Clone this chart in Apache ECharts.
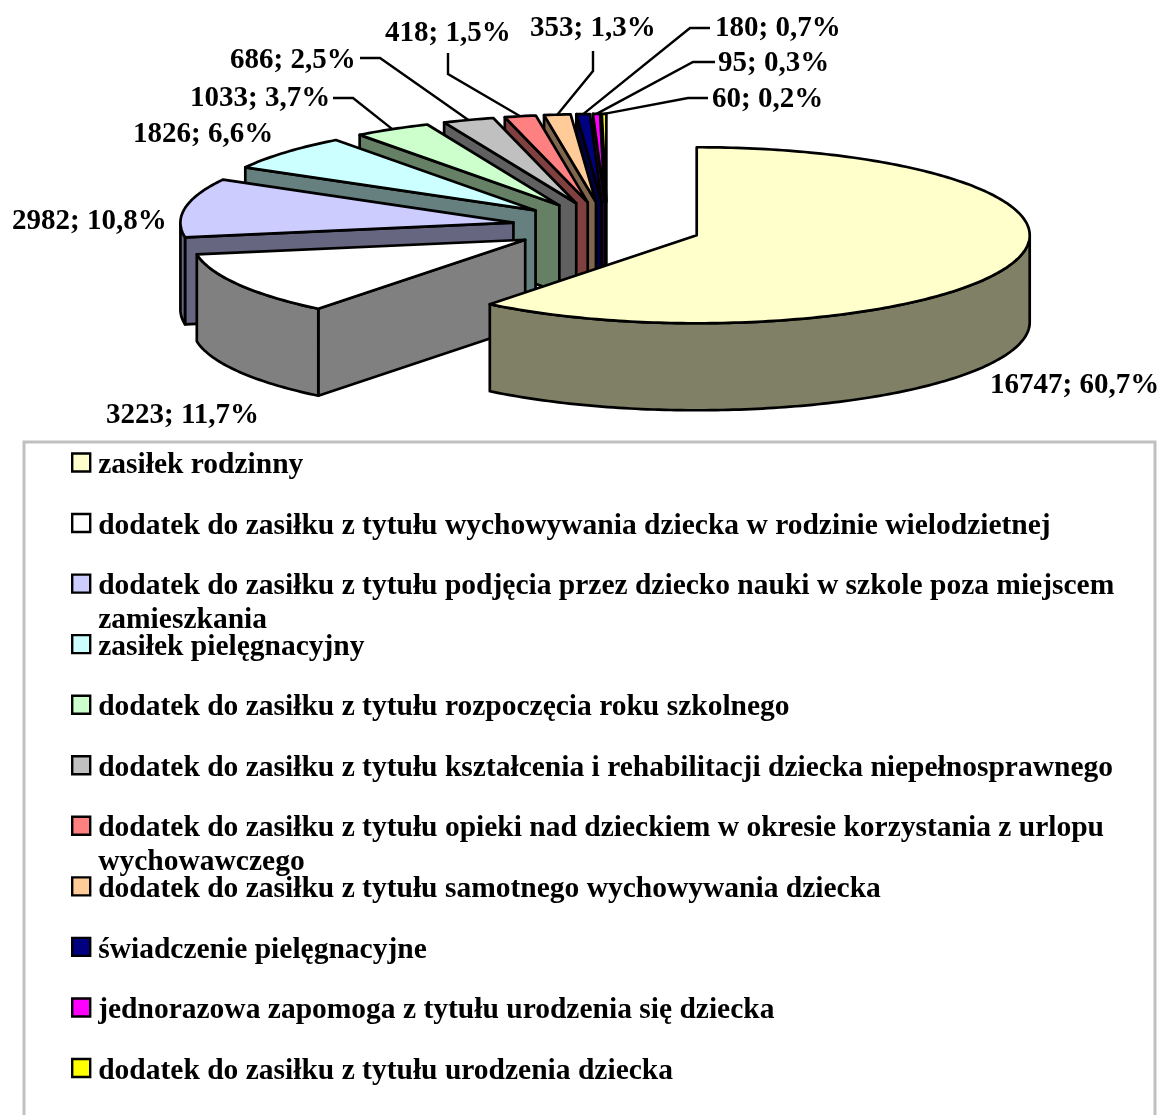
<!DOCTYPE html>
<html><head><meta charset="utf-8">
<style>html,body{margin:0;padding:0;background:#fff}#c{width:1161px;height:1115px}</style>
<script src="https://cdn.jsdelivr.net/npm/echarts@6/dist/echarts.min.js"></script>
</head><body><div id="c"></div>
<script>
const categories = [
  'zasiłek rodzinny',
  'dodatek do zasiłku z tytułu wychowywania dziecka w rodzinie wielodzietnej',
  'dodatek do zasiłku z tytułu podjęcia przez dziecko nauki w szkole poza miejscem zamieszkania',
  'zasiłek pielęgnacyjny',
  'dodatek do zasiłku z tytułu rozpoczęcia roku szkolnego',
  'dodatek do zasiłku z tytułu kształcenia i rehabilitacji dziecka niepełnosprawnego',
  'dodatek do zasiłku z tytułu opieki nad dzieckiem w okresie korzystania z urlopu wychowawczego',
  'dodatek do zasiłku z tytułu samotnego wychowywania dziecka',
  'świadczenie pielęgnacyjne',
  'jednorazowa zapomoga z tytułu urodzenia się dziecka',
  'dodatek do zasiłku z tytułu urodzenia dziecka'
];
const values = [16747, 3223, 2982, 1826, 1033, 686, 418, 353, 180, 95, 60];
const percents = ['60,7%', '11,7%', '10,8%', '6,6%', '3,7%', '2,5%', '1,5%', '1,3%', '0,7%', '0,3%', '0,2%'];
const topColors = ['#FFFFCC', '#FFFFFF', '#CCCCFF', '#CCFFFF', '#CCFFCC', '#C0C0C0', '#FF8080', '#FFCC99', '#000080', '#FF00FF', '#FFFF00'];
const sideColors = ['#808066', '#808080', '#666680', '#668080', '#668066', '#606060', '#804040', '#80664D', '#000040', '#800080', '#808000'];
const wrappedWords = ['zamieszkania', 'wychowawczego'];

// layout: pie geometry and label placement
const pie = { cx: 607, cy: 227, rx: 333, ry: 88, depth: 87, explode: 95 };
const labelPos = [[990, 386], [106, 416], [12, 222], [133, 135], [190, 99], [230, 61], [385, 34], [530, 29], [715, 29], [718, 64], [712, 100]];
const leaderPath = [null, null, null, null,
  [[333, 98], [353, 98]], [[360, 58], [380, 58]], [[448, 53], [448, 74]], [[593, 51], [593, 71]],
  [[710, 28], [690, 28]], [[715, 62], [693, 62]], [[708, 98], [688, 98]]];
const legendStartY = 462.5, legendStep = 60.55;

const total = values.reduce((a, b) => a + b, 0);
const starts = [];
values.reduce((acc, v, i) => { starts[i] = acc; return acc + v; }, 0);
const FONT = 'bold 29px "Liberation Serif", "Times New Roman", serif';

function arc(ox, oy, a1, a2, dy) {
  const pts = [];
  const n = Math.max(1, Math.ceil((a2 - a1) / (Math.PI / 180)));
  for (let k = 0; k <= n; k++) {
    const a = a1 + (a2 - a1) * k / n;
    pts.push([ox + pie.rx * Math.sin(a), oy - pie.ry * Math.cos(a) + dy]);
  }
  return pts;
}

function renderSlice(idx) {
  return function (params, api) {
    const v = api.value(0);
    const a1 = starts[idx] / total * 2 * Math.PI;
    const a2 = a1 + v / total * 2 * Math.PI;
    const mid = (a1 + a2) / 2;
    const ox = pie.cx + pie.explode * Math.sin(mid);
    const oy = pie.cy - pie.explode * (pie.ry / pie.rx) * Math.cos(mid);
    const line = { stroke: '#000', lineWidth: 2.7, lineJoin: 'round' };
    const side = Object.assign({ fill: sideColors[idx] }, line);
    const children = [];
    const face = (a) => {
      const p = arc(ox, oy, a, a, 0)[0];
      children.push({ type: 'polygon', shape: { points: [[ox, oy], p, [p[0], p[1] + pie.depth], [ox, oy + pie.depth]] }, style: side });
    };
    if (Math.sin(a1) < -1e-6) face(a1);
    if (Math.sin(a2) > 1e-6) face(a2);
    const w1 = Math.max(a1, Math.PI / 2), w2 = Math.min(a2, Math.PI * 1.5);
    if (w2 > w1) {
      children.push({ type: 'polygon', shape: { points: arc(ox, oy, w1, w2, 0).concat(arc(ox, oy, w1, w2, pie.depth).reverse()) }, style: side });
    }
    children.push({ type: 'polygon', shape: { points: [[ox, oy]].concat(arc(ox, oy, a1, a2, 0)) }, style: Object.assign({ fill: topColors[idx] }, line) });
    if (leaderPath[idx]) {
      const rim = arc(ox, oy, mid, mid, 0)[0];
      children.push({ type: 'polyline', shape: { points: leaderPath[idx].concat([rim]) }, style: { stroke: '#000', lineWidth: 2.4, fill: null } });
    }
    children.push({ type: 'text', style: { text: v + '; ' + percents[idx], x: labelPos[idx][0], y: labelPos[idx][1], font: FONT, fill: '#000', verticalAlign: 'middle', align: 'left' } });
    return { type: 'group', children };
  };
}

const series = values.map((v, i) => ({
  type: 'custom', name: categories[i], coordinateSystem: 'none', silent: true, animation: false,
  itemStyle: { color: topColors[i] }, data: [[v]], renderItem: renderSlice(i)
})).reverse();

const breakName = (n) => wrappedWords.reduce((s, w) => s.replace(' ' + w, '\n' + w), n);
// a leading blank line keeps the first text line level with the legend key on wrapped entries
const legendText = (n) => breakName(n) !== n ? '\n' + breakName(n) : n;

const legends = categories.map((c, i) => {
  const two = breakName(c) !== c;
  const y = legendStartY + i * legendStep;
  return {
    left: 71, top: two ? y - 48 : y - 14, orient: 'vertical', padding: 0,
    data: [{ name: c, icon: 'path://M0 0H18V18H0ZM0 24L0 24' }], selectedMode: false,
    formatter: legendText,
    itemWidth: 18, itemHeight: 24,
    itemStyle: { borderColor: '#000', borderWidth: 2.4, color: topColors[i] },
    textStyle: { fontFamily: '"Liberation Serif"', fontWeight: 'bold', fontSize: 29.5, color: '#000', lineHeight: 34, padding: [0, 0, 0, 3] }
  };
});

const chart = echarts.init(document.getElementById('c'), null, { renderer: 'canvas' });
chart.setOption({
  animation: false, backgroundColor: '#fff', legend: legends, series,
  graphic: [{ type: 'rect', z: -1, shape: { x: 24, y: 442, width: 1131, height: 800 }, style: { fill: '#fff', stroke: '#C0C0C0', lineWidth: 3 } }]
});
</script></body></html>
